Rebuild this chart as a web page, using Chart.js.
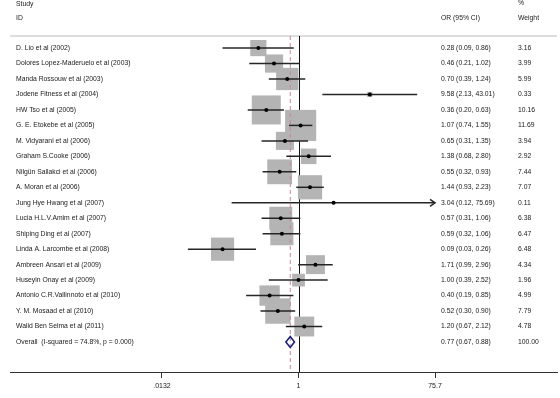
<!DOCTYPE html>
<html>
<head>
<meta charset="utf-8">
<script src="https://cdn.jsdelivr.net/npm/chart.js@4.4.1/dist/chart.umd.min.js"></script>
<style>
  html, body { margin: 0; padding: 0; background: #ffffff; }
  #wrap { width: 560px; height: 398px; position: relative; }
</style>
</head>
<body>
<div id="wrap"><canvas id="c" width="560" height="398"></canvas></div>
<script>
// ---------------- data ----------------
const studies = [
  'D. Lio et al (2002)',
  'Dolores Lopez-Maderuelo et al (2003)',
  'Manda Rossouw et al (2003)',
  'Jodene Fitness et al (2004)',
  'HW Tso et al (2005)',
  'G. E. Etokebe et al (2005)',
  'M. Vidyarani et al (2006)',
  'Graham S.Cooke (2006)',
  'Nilgün Sallakci et al (2006)',
  'A. Moran et al (2006)',
  'Jung Hye Hwang et al (2007)',
  'Lucia H.L.V.Amim et al (2007)',
  'Shiping Ding et al (2007)',
  'Linda A. Larcombe et al (2008)',
  'Ambreen Ansari et al (2009)',
  'Huseyin Onay et al (2009)',
  'Antonio C.R.Vallinnoto et al (2010)',
  'Y. M. Mosaad et al (2010)',
  'Walid Ben Selma et al (2011)'
];
const oddsRatios = [0.28, 0.46, 0.70, 9.58, 0.36, 1.07, 0.65, 1.38, 0.55, 1.44, 3.04, 0.57, 0.59, 0.09, 1.71, 1.00, 0.40, 0.52, 1.20];
const ciLower    = [0.09, 0.21, 0.39, 2.13, 0.20, 0.74, 0.31, 0.68, 0.32, 0.93, 0.12, 0.31, 0.32, 0.03, 0.99, 0.39, 0.19, 0.30, 0.67];
const ciUpper    = [0.86, 1.02, 1.24, 43.01, 0.63, 1.55, 1.35, 2.80, 0.93, 2.23, 75.69, 1.06, 1.06, 0.26, 2.96, 2.52, 0.85, 0.90, 2.12];
const weights    = [3.16, 3.99, 5.99, 0.33, 10.16, 11.69, 3.94, 2.92, 7.44, 7.07, 0.11, 6.38, 6.47, 6.48, 4.34, 1.96, 4.99, 7.79, 4.78];
const overallOR = 0.77;
const overallLower = 0.67;
const overallUpper = 0.88;
const overallWeight = 100.00;
const overallLabel = 'Overall  (I-squared = 74.8%, p = 0.000)';
const tickValues = [0.0132, 1, 75.7];
const tickLabels = ['.0132', '1', '75.7'];

// ---------------- layout / style ----------------
const FONT = '6.8px "Liberation Sans", Arial, Helvetica, sans-serif';
const TEXT_COLOR = '#1a1a1a';
const COL_STUDY = 16, COL_OR = 441, COL_W = 518;
const plotMax = tickValues[tickValues.length - 1];
const plotMin = tickValues[0];

const squareData = oddsRatios.map((v, i) => ({ x: v, y: i }));
const dotData = oddsRatios.map((v, i) => ({ x: v, y: i }));

function drawArrow(ctx, x, y, dir) {
  ctx.beginPath();
  ctx.moveTo(x - dir * 5, y - 3.5);
  ctx.lineTo(x, y);
  ctx.lineTo(x - dir * 5, y + 3.5);
  ctx.stroke();
}

const forestPlugin = {
  id: 'forest',
  beforeDatasetsDraw(chart) {
    const { ctx, chartArea, scales } = chart;
    const xs = scales.x;
    ctx.save();
    // separator line
    ctx.strokeStyle = '#dddddd';
    ctx.lineWidth = 2;
    ctx.beginPath();
    ctx.moveTo(chartArea.left, chartArea.top);
    ctx.lineTo(chartArea.right, chartArea.top);
    ctx.stroke();
    // null line at OR = 1
    ctx.strokeStyle = '#111111';
    ctx.lineWidth = 1;
    const x1 = Math.round(xs.getPixelForValue(1)) + 0.5;
    ctx.beginPath();
    ctx.moveTo(x1, chartArea.top);
    ctx.lineTo(x1, chartArea.bottom);
    ctx.stroke();
    ctx.restore();
  },
  afterDatasetDraw(chart, args) {
    if (args.index !== 0) return;
    const { ctx, chartArea, scales } = chart;
    const xs = scales.x, ys = scales.y;
    ctx.save();
    // dashed overall line
    ctx.strokeStyle = '#c48a94';
    ctx.lineWidth = 1;
    ctx.setLineDash([4, 3]);
    const xo = xs.getPixelForValue(overallOR);
    ctx.beginPath();
    ctx.moveTo(xo, chartArea.top);
    ctx.lineTo(xo, chartArea.bottom);
    ctx.stroke();
    ctx.setLineDash([]);
    // confidence intervals
    ctx.strokeStyle = '#262626';
    ctx.lineWidth = 1.5;
    for (let i = 0; i < studies.length; i++) {
      const y = ys.getPixelForValue(i);
      const loClip = ciLower[i] <= plotMin * 1.001;
      const hiClip = ciUpper[i] >= plotMax * 0.999;
      const xl = xs.getPixelForValue(Math.max(ciLower[i], plotMin));
      const xh = xs.getPixelForValue(Math.min(ciUpper[i], plotMax));
      ctx.beginPath();
      ctx.moveTo(xl, y);
      ctx.lineTo(xh, y);
      ctx.stroke();
      if (hiClip) drawArrow(ctx, xh, y, 1);
      if (loClip) drawArrow(ctx, xl, y, -1);
    }
    // overall diamond
    const yo = ys.getPixelForValue(studies.length);
    const xl = xs.getPixelForValue(overallLower);
    const xh = xs.getPixelForValue(overallUpper);
    ctx.strokeStyle = '#1f1f7a';
    ctx.lineWidth = 1.6;
    ctx.beginPath();
    ctx.moveTo(xl, yo);
    ctx.lineTo(xo, yo - 5.5);
    ctx.lineTo(xh, yo);
    ctx.lineTo(xo, yo + 5.5);
    ctx.closePath();
    ctx.stroke();
    ctx.restore();
  },
  afterDraw(chart) {
    const { ctx, scales } = chart;
    const ys = scales.y;
    ctx.save();
    ctx.font = FONT;
    ctx.fillStyle = TEXT_COLOR;
    ctx.textBaseline = 'middle';
    ctx.textAlign = 'left';
    // headers
    ctx.fillText('Study', COL_STUDY, 4);
    ctx.fillText('ID', COL_STUDY, 18.5);
    ctx.fillText('OR (95% CI)', COL_OR, 18.5);
    ctx.fillText('%', COL_W, 3);
    ctx.fillText('Weight', COL_W, 18.5);
    for (let i = 0; i < studies.length; i++) {
      const y = ys.getPixelForValue(i);
      ctx.fillText(studies[i], COL_STUDY, y);
      ctx.fillText(oddsRatios[i].toFixed(2) + ' (' + ciLower[i].toFixed(2) + ', ' + ciUpper[i].toFixed(2) + ')', COL_OR, y);
      ctx.fillText(weights[i].toFixed(2), COL_W, y);
    }
    const yo = ys.getPixelForValue(studies.length);
    ctx.fillText(overallLabel, COL_STUDY, yo);
    ctx.fillText(overallOR.toFixed(2) + ' (' + overallLower.toFixed(2) + ', ' + overallUpper.toFixed(2) + ')', COL_OR, yo);
    ctx.fillText(overallWeight.toFixed(2), COL_W, yo);
    ctx.restore();
  }
};

new Chart(document.getElementById('c'), {
  type: 'scatter',
  data: {
    datasets: [
      {
        label: 'weight',
        data: squareData,
        pointStyle: 'rect',
        pointRadius: (c) => Math.sqrt(weights[c.dataIndex] || 0) * 9.1 / Math.SQRT2,
        backgroundColor: '#b4b4b4',
        borderWidth: 0,
        order: 2
      },
      {
        label: 'OR',
        data: dotData,
        pointStyle: 'circle',
        pointRadius: 2,
        backgroundColor: '#000000',
        borderWidth: 0,
        order: 1
      }
    ]
  },
  options: {
    responsive: false,
    animation: false,
    events: [],
    layout: { autoPadding: false, padding: { left: 10, right: 3, top: 36, bottom: 3.6 } },
    plugins: { legend: { display: false }, tooltip: { enabled: false } },
    scales: {
      x: {
        type: 'logarithmic',
        min: 1.067e-4,
        max: 3618,
        bounds: 'data',
        afterBuildTicks: (scale) => { scale.ticks = tickValues.map(v => ({ value: v })); },
        ticks: {
          autoSkip: false,
          maxRotation: 0,
          padding: 4,
          color: TEXT_COLOR,
          font: { family: '"Liberation Sans", Arial, sans-serif', size: 7 },
          callback: (v, i) => tickLabels[i]
        },
        grid: { display: true, drawOnChartArea: false, drawTicks: true, tickLength: 6, color: '#333333', lineWidth: 1 },
        border: { display: true, color: '#333333', width: 1 }
      },
      y: {
        type: 'linear',
        display: false,
        reverse: true,
        min: -0.78,
        max: 20.94
      }
    }
  },
  plugins: [forestPlugin]
});
</script>
</body>
</html>
